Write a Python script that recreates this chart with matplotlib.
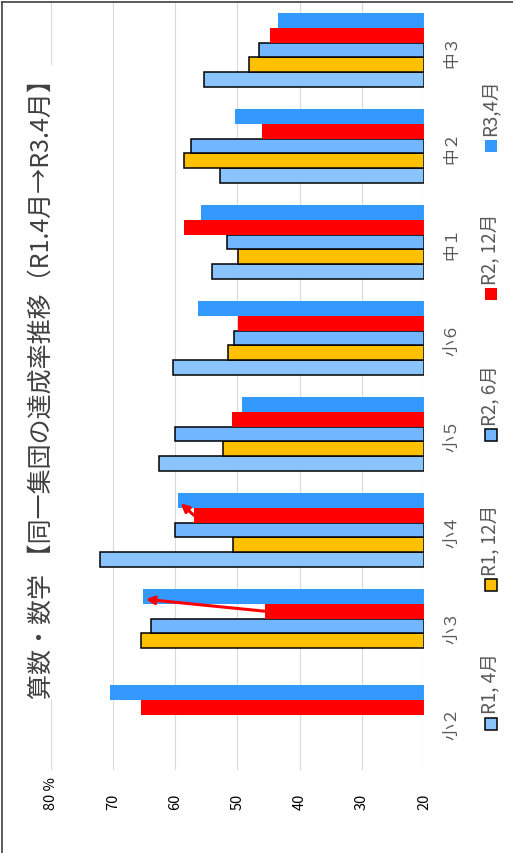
import numpy as np
import matplotlib
matplotlib.use("Agg")
import matplotlib.pyplot as plt
from matplotlib.patches import Rectangle
from matplotlib.lines import Line2D
from matplotlib.transforms import blended_transform_factory

plt.rcParams["font.family"] = ["Noto Sans CJK JP", "DejaVu Sans"]

nan = np.nan
categories = ["小２", "小３", "小４", "小５", "小６", "中１", "中２", "中３"]
series_names = ["R1, 4月", "R1, 12月", "R2, 6月", "R2, 12月", "R3,4月"]
r1_apr = [nan, nan, 72.0, 62.6, 60.3, 54.1, 52.8, 55.3]
r1_dec = [nan, 65.5, 50.7, 52.3, 51.5, 49.9, 58.5, 48.1]
r2_jun = [nan, 63.9, 60.1, 60.1, 50.5, 51.6, 57.4, 46.6]
r2_dec = [65.5, 45.6, 57.0, 50.9, 49.9, 58.5, 46.1, 44.7]
r3_apr = [70.5, 65.1, 59.5, 49.3, 56.4, 55.8, 50.3, 43.5]
value_ticks = [20, 30, 40, 50, 60, 70, 80]
arrow_groups = [1, 2]  # 小３, 小４: R2,12月 -> R3,4月

COLORS = ["#89C4FF", "#FFC000", "#72B6FF", "#FF0000", "#3399FF"]
EDGES = ["black", "black", "black", "none", "none"]
GRID = "#D9D9D9"
INK = "#595959"

W, H = 513, 854
fig = plt.figure(figsize=(W / 100, H / 100), dpi=100)
ax = fig.add_axes([50.7 / W, 83 / H, 373.3 / W, 768 / H])

series = [r1_apr, r1_dec, r2_jun, r2_dec, r3_apr]
y = np.arange(len(categories))
bw = 0.154
for k, vals in enumerate(series):
    v = np.array(vals, dtype=float)
    ax.barh(y + (k - 2) * bw, v - 20, left=20, height=bw, color=COLORS[k],
            edgecolor=EDGES[k], linewidth=1.1 if EDGES[k] != "none" else 0,
            zorder=2)

ax.set_xlim(80, 20)
ax.set_ylim(-0.5, len(categories) - 0.5)
for v in value_ticks:
    ax.axvline(v, color=GRID, lw=0.8, zorder=1 if v != 20 else 3)
for s in ax.spines.values():
    s.set_visible(False)
ax.set_xticks([])
ax.set_yticks([])

tr = blended_transform_factory(ax.transData, ax.transAxes)
for v in value_ticks:
    lab = f"{v} %" if v == 80 else f"{v}"
    ax.text(v, -0.051, lab, transform=tr, rotation=90, ha="center", va="bottom",
            fontsize=10.5, color="black")

tr2 = blended_transform_factory(ax.transAxes, ax.transData)
for i, c in enumerate(categories):
    ax.text(1.075, i, c, transform=tr2, rotation=90, ha="center", va="center",
            fontsize=12, color=INK)

# red arrows from R2,12月 to R3,4月
for i in arrow_groups:
    ax.annotate("", xy=(r3_apr[i] - 0.4, i + 2 * bw - 0.03), xytext=(r2_dec[i], i + bw),
                arrowprops=dict(arrowstyle="-|>", color="#FF0000", lw=2.2,
                                mutation_scale=12, shrinkA=0, shrinkB=0),
                zorder=5)

# title
fig.text(42 / W, 1 - 383 / H, "算数・数学 【同一集団の達成率推移（R1.4月→R3.4月】",
         rotation=90, ha="center", va="center", fontsize=18, color="#404040",
         bbox=dict(facecolor="white", edgecolor="none", pad=1))

# legend (rotated)
leg_marker_y = [724.5, 585.5, 436, 295, 146.5]
for k, name in enumerate(series_names):
    my = leg_marker_y[k]
    fig.add_artist(Rectangle(((491 - 6) / W, 1 - (my + 6) / H), 12 / W, 12 / H,
                             transform=fig.transFigure, facecolor=COLORS[k],
                             edgecolor=EDGES[k], linewidth=1.1 if EDGES[k] != "none" else 0))
    fig.text(490 / W, 1 - (my - 10) / H, name, rotation=90, ha="center", va="bottom",
             fontsize=13.5, color=INK)

# chart border (top and left)
fig.add_artist(Line2D([1.5 / W, 1.5 / W], [0, 1 - 2.5 / H], transform=fig.transFigure,
                      color="#404040", lw=1.2))
fig.add_artist(Line2D([1.5 / W, 1], [1 - 2.5 / H, 1 - 2.5 / H], transform=fig.transFigure,
                      color="#404040", lw=1.2))

fig.savefig("out.png", dpi=100)
